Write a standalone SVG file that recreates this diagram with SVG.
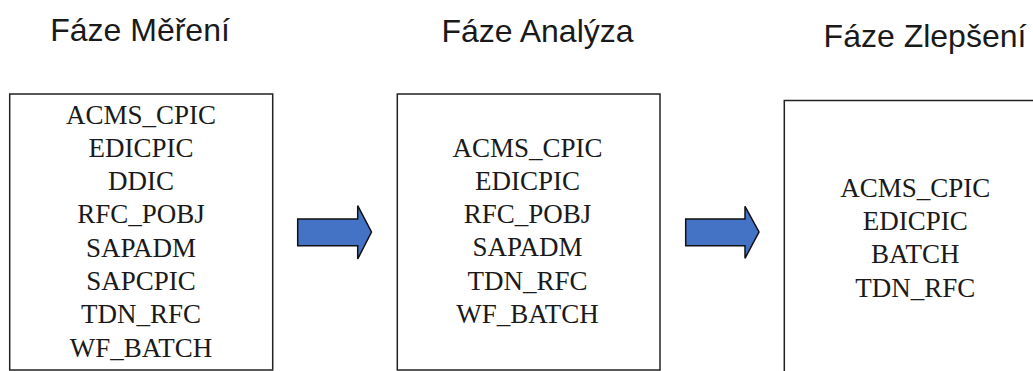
<svg xmlns="http://www.w3.org/2000/svg" width="1033" height="371" viewBox="0 0 1033 371">
<style>
.title{font-family:"Liberation Sans",Arial,sans-serif;font-size:32px;fill:#1a1a1a;text-anchor:middle}
.item{font-family:"Liberation Serif","Times New Roman",serif;font-size:27px;fill:#1a1a1a;text-anchor:middle}
.box{fill:#fff;stroke:#222;stroke-width:1.5}
.arrow{fill:#4472C4;stroke:#111;stroke-width:1.5;stroke-linejoin:miter}
</style>
<rect width="1033" height="371" fill="#fff"/>
<text class="title" x="140" y="41">Fáze Měření</text>
<text class="title" x="537.5" y="41.5">Fáze Analýza</text>
<text class="title" x="925" y="47">Fáze Zlepšení</text>
<g id="box-mereni">
<rect class="box" x="9.7" y="94" width="263" height="276"/>
<text class="item" x="141" y="123.5">ACMS_CPIC</text>
<text class="item" x="141" y="156.8">EDICPIC</text>
<text class="item" x="141" y="190">DDIC</text>
<text class="item" x="141" y="223.3">RFC_POBJ</text>
<text class="item" x="141" y="256.6">SAPADM</text>
<text class="item" x="141" y="290">SAPCPIC</text>
<text class="item" x="141" y="323.3">TDN_RFC</text>
<text class="item" x="141" y="356.6">WF_BATCH</text>
</g>
<g id="box-analyza">
<rect class="box" x="397.3" y="94" width="262.7" height="276"/>
<text class="item" x="527.5" y="157.3">ACMS_CPIC</text>
<text class="item" x="527.5" y="190">EDICPIC</text>
<text class="item" x="527.5" y="222.7">RFC_POBJ</text>
<text class="item" x="527.5" y="256">SAPADM</text>
<text class="item" x="527.5" y="290">TDN_RFC</text>
<text class="item" x="527.5" y="323.3">WF_BATCH</text>
</g>
<g id="box-zlepseni">
<rect class="box" x="784.3" y="100.5" width="270" height="290"/>
<text class="item" x="915.3" y="196.7">ACMS_CPIC</text>
<text class="item" x="915.3" y="230">EDICPIC</text>
<text class="item" x="915.3" y="263.3">BATCH</text>
<text class="item" x="915.3" y="296.7">TDN_RFC</text>
</g>
<g id="connectors">
<polygon class="arrow" points="297.7,219 357.7,219 357.7,205.7 371.5,232 357.7,259 357.7,245.7 297.7,245.7"/>
<polygon class="arrow" points="685.7,219 745,219 745,206.3 759,232 745,258.3 745,245.7 685.7,245.7"/>
</g>
</svg>
